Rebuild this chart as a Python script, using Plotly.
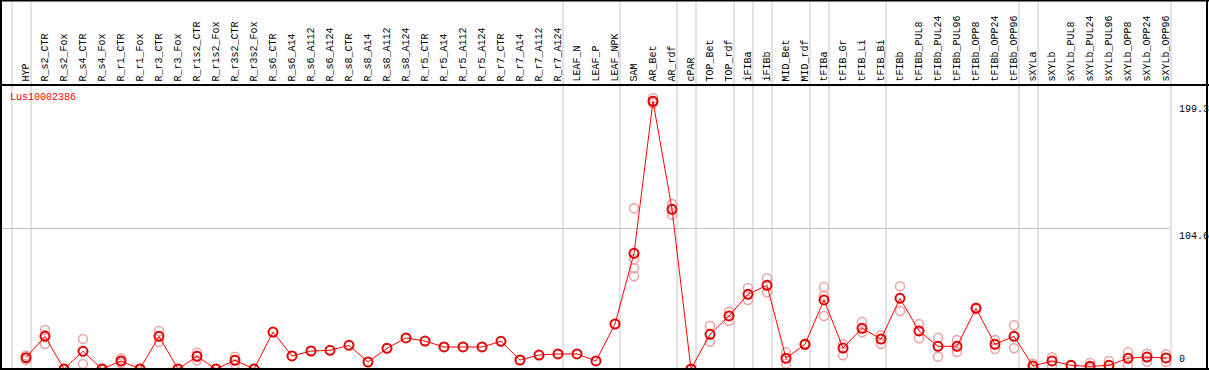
import plotly.graph_objects as go

categories = ["HYP", "R_s2_CTR", "R_s2_Fox", "R_s4_CTR", "R_s4_Fox", "R_r1_CTR", "R_r1_Fox",
              "R_r3_CTR", "R_r3_Fox", "R_r1s2_CTR", "R_r1s2_Fox", "R_r3s2_CTR", "R_r3s2_Fox",
              "R_s6_CTR", "R_s6_A14", "R_s6_A112", "R_s6_A124", "R_s8_CTR", "R_s8_A14",
              "R_s8_A112", "R_s8_A124", "R_r5_CTR", "R_r5_A14", "R_r5_A112", "R_r5_A124",
              "R_r7_CTR", "R_r7_A14", "R_r7_A112", "R_r7_A124", "LEAF_N", "LEAF_P", "LEAF_NPK",
              "SAM", "AR_Bet", "AR_rdf", "cPAR", "TOP_Bet", "TOP_rdf", "iFIBa", "iFIBb",
              "MID_Bet", "MID_rdf", "tFIBa", "tFIB_Gr", "tFIB_Li", "tFIB_Bi", "tFIBb",
              "tFIBb_PUL8", "tFIBb_PUL24", "tFIBb_PUL96", "tFIBb_OPP8", "tFIBb_OPP24",
              "tFIBb_OPP96", "sXYLa", "sXYLb", "sXYLb_PUL8", "sXYLb_PUL24", "sXYLb_PUL96",
              "sXYLb_OPP8", "sXYLb_OPP24", "sXYLb_OPP96"]

means = [8.4, 24.3, 0, 13.2, 0, 6.0, 0, 24.3, 0, 9.4, 0, 6.5, 0,
         27.5, 9.7, 13.4, 13.9, 17.6, 5.2, 15.4, 23.1, 20.8, 16.4, 16.4, 16.4,
         20.6, 6.7, 10.4, 11.2, 11.2, 6.0, 33.5,
         86.1, 199.3, 118.9, 0, 25.8, 39.5, 55.6, 62.3,
         8.0, 18.4, 51.4, 15.6, 30.3, 22.3, 52.6,
         28.3, 16.9, 16.9, 45.2, 18.4, 24.3,
         2.2, 6.0, 2.7, 2.0, 2.7, 8.0, 8.9, 8.2]

replicates = [[10.0, 8.4, 6.9], [29.0, 25.3, 18.6], [0, 0], [22.4, 3.8], [0, 0],
              [7.8, 4.2, 6.0], [0, 0], [28.3, 24.5, 20.1], [0, 0], [12.1, 9.6, 6.5],
              [0, 0], [9.2, 6.8, 3.5], [0, 0],
              [], [], [], [], [], [], [], [], [], [], [], [],
              [], [], [], [], [], [], [],
              [119.6, 81.7, 75.0, 69.0], [201.5, 199.3, 197.8], [122.8, 118.9, 114.9], [0, 0],
              [32.0, 20.3], [42.7, 35.7], [60.3, 51.4], [67.5, 57.1],
              [12.4, 4.0], [19.0, 17.8], [61.0, 54.3, 39.5], [18.6, 10.2], [35.0, 27.3],
              [25.1, 18.6], [61.6, 43.2],
              [33.5, 22.9], [23.3, 9.2], [21.6, 12.7], [45.8, 44.6], [21.6, 14.9], [32.5, 15.4],
              [4.0, 0.5], [8.7, 2.2], [2.7, 2.7], [4.5, 0.5], [6.0, 0.5], [12.4, 3.2],
              [11.4, 5.4], [11.0, 5.4]]

group_breaks = [-1, 0, 28, 31, 34, 35, 37, 38, 39, 41, 42, 45, 52, 53, 60]
y_ticks = [0, 104.6, 199.3]
gene_name = "Lus10002386"

W, H = 1209, 370
X0, DX = 26, 19          # pixel of first category, pixel step
Y_BOT, Y_TOP = 369, 85   # plot area in pixels
Y_MAX = 211.4


def px(p):
    return p / W


def py(p):
    return (H - p) / H


rep_x, rep_y = [], []
for i, reps in enumerate(replicates):
    for v in reps:
        rep_x.append(i)
        rep_y.append(v)

fig = go.Figure()
fig.add_trace(go.Scatter(
    x=rep_x, y=rep_y, mode="markers",
    marker=dict(symbol="circle-open", size=9, color="rgb(240,160,160)",
                line=dict(width=1.5, color="rgb(240,160,160)")),
    hoverinfo="skip", showlegend=False))
fig.add_trace(go.Scatter(
    x=list(range(len(categories))), y=means, mode="lines+markers",
    line=dict(color="#ff0000", width=1),
    marker=dict(symbol="circle-open", size=9, color="#e00000",
                line=dict(width=2, color="#e00000")),
    text=categories, showlegend=False))

shapes = []
for b in group_breaks:
    xb = b + 5.0 / DX
    shapes.append(dict(type="line", xref="x", yref="paper", x0=xb, x1=xb,
                       y0=py(Y_BOT), y1=1, line=dict(color="#c4c4c4", width=1), layer="below"))
shapes.append(dict(type="line", xref="paper", yref="y", x0=px(1), x1=px(1170),
                   y0=y_ticks[1], y1=y_ticks[1], line=dict(color="#c4c4c4", width=1), layer="below"))
frame = dict(color="black", width=2)
shapes.append(dict(type="line", xref="paper", yref="paper", x0=px(1), x1=px(1), y0=0, y1=1, line=frame))
shapes.append(dict(type="line", xref="paper", yref="paper", x0=px(1207), x1=px(1207), y0=0, y1=1, line=frame))
shapes.append(dict(type="line", xref="paper", yref="paper", x0=0, x1=1, y0=py(0.5), y1=py(0.5), line=frame))
shapes.append(dict(type="line", xref="paper", yref="paper", x0=0, x1=1, y0=py(Y_BOT), y1=py(Y_BOT), line=frame))
shapes.append(dict(type="line", xref="paper", yref="paper", x0=0, x1=1, y0=py(Y_TOP), y1=py(Y_TOP), line=frame))

annotations = []
mono = "Liberation Mono, DejaVu Sans Mono, monospace"
for i, c in enumerate(categories):
    annotations.append(dict(x=i, xref="x", y=py(83.5), yref="paper", text=c, textangle=-90,
                            showarrow=False, xanchor="center", yanchor="bottom",
                            font=dict(family=mono, size=10, color="black")))
annotations.append(dict(x=px(8), y=py(97), xref="paper", yref="paper", text=gene_name,
                        showarrow=False, xanchor="left", yanchor="middle",
                        font=dict(family=mono, size=10, color="red")))
for t in y_ticks:
    lab = "0" if t == 0 else f"{t:.1f}"
    annotations.append(dict(x=px(1177), xref="paper", y=t, yref="y", text=lab,
                            showarrow=False, xanchor="left",
                            yanchor="bottom" if t == 0 else "top",
                            yshift=2 if t == 0 else -1,
                            font=dict(family=mono, size=10, color="black")))

fig.update_layout(
    width=W, height=H, margin=dict(l=0, r=0, t=0, b=0),
    paper_bgcolor="white", plot_bgcolor="white",
    xaxis=dict(range=[-X0 / DX, (W - X0) / DX], domain=[0, 1], showgrid=False,
               zeroline=False, showticklabels=False, showline=False, fixedrange=True),
    yaxis=dict(range=[0, Y_MAX], domain=[py(Y_BOT), py(Y_TOP)], showgrid=False,
               zeroline=False, showticklabels=False, showline=False, fixedrange=True),
    shapes=shapes, annotations=annotations, hovermode="closest",
)

fig.write_html("out.html", config={"displayModeBar": False},
               post_script="document.body.style.margin='0';")
